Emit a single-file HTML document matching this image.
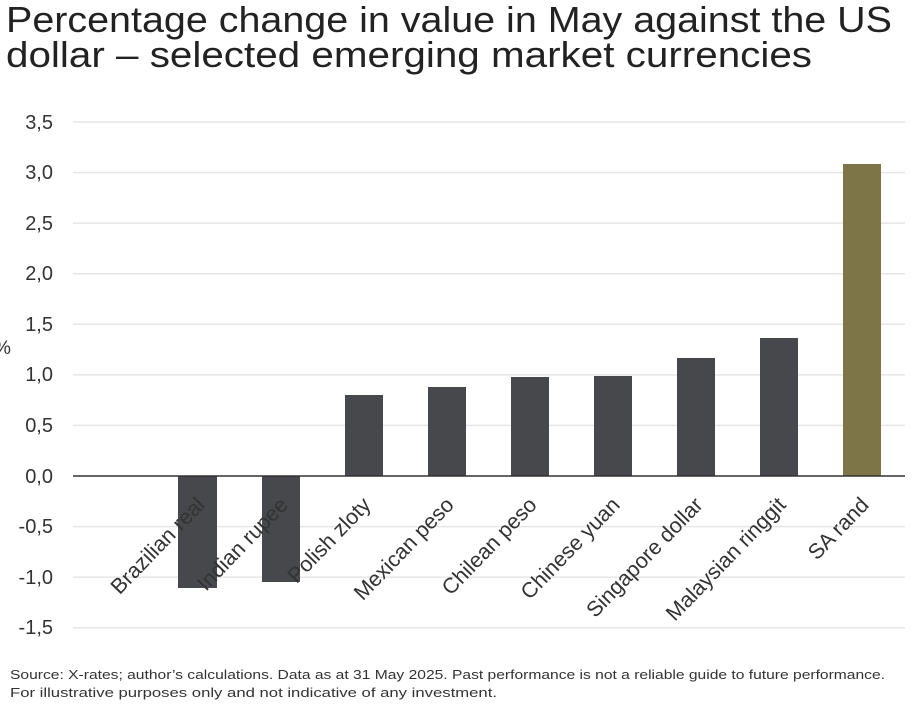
<!DOCTYPE html>
<html><head><style>
body{margin:0;background:#fff;width:920px;height:712px;overflow:hidden;font-family:"Liberation Sans",sans-serif}
</style></head><body>
<svg width="920" height="712" xmlns="http://www.w3.org/2000/svg" font-family="Liberation Sans, sans-serif">
<text x="6" y="32" font-size="36" fill="#222" textLength="886" lengthAdjust="spacingAndGlyphs">Percentage change in value in May against the US</text>
<text x="6" y="67" font-size="36" fill="#222" textLength="806" lengthAdjust="spacingAndGlyphs">dollar – selected emerging market currencies</text>
<g stroke="#e6e6e6" stroke-width="1.5">
<line x1="73" x2="905" y1="122" y2="122"/><line x1="73" x2="905" y1="172.6" y2="172.6"/>
<line x1="73" x2="905" y1="223.1" y2="223.1"/><line x1="73" x2="905" y1="273.7" y2="273.7"/>
<line x1="73" x2="905" y1="324.3" y2="324.3"/><line x1="73" x2="905" y1="374.9" y2="374.9"/>
<line x1="73" x2="905" y1="425.4" y2="425.4"/><line x1="73" x2="905" y1="526.6" y2="526.6"/>
<line x1="73" x2="905" y1="577.1" y2="577.1"/><line x1="73" x2="905" y1="627.7" y2="627.7"/>
</g>
<g font-size="20" fill="#333" text-anchor="end">
<text x="53" y="129">3,5</text><text x="53" y="179">3,0</text><text x="53" y="230">2,5</text>
<text x="53" y="280">2,0</text><text x="53" y="331">1,5</text><text x="53" y="381">1,0</text>
<text x="53" y="432">0,5</text><text x="53" y="483">0,0</text><text x="53" y="533">-0,5</text>
<text x="53" y="584">-1,0</text><text x="53" y="634">-1,5</text>
</g>
<text x="-6" y="354" font-size="19" fill="#333">%</text>
<g fill="#46484b">
<rect x="178" y="476" width="39" height="112"/>
<rect x="262" y="476" width="38" height="106"/>
<rect x="345" y="395" width="38" height="81"/>
<rect x="428" y="387" width="38" height="89"/>
<rect x="511" y="377" width="38" height="99"/>
<rect x="594" y="376" width="38" height="100"/>
<rect x="677" y="358" width="38" height="118"/>
<rect x="760" y="338" width="38" height="138"/>
</g>
<rect x="843" y="164" width="38" height="312" fill="#7d7447"/>
<line x1="73" x2="905" y1="476" y2="476" stroke="#333" stroke-width="1.5"/>
<g font-size="21.5" fill="#333" text-anchor="end">
<text transform="translate(206,506) rotate(-46)">Brazilian real</text>
<text transform="translate(289,506) rotate(-46)">Indian rupee</text>
<text transform="translate(372,506) rotate(-46)">Polish zloty</text>
<text transform="translate(455,506) rotate(-46)">Mexican peso</text>
<text transform="translate(538,506) rotate(-46)">Chilean peso</text>
<text transform="translate(621,506) rotate(-46)">Chinese yuan</text>
<text transform="translate(704,506) rotate(-46)">Singapore dollar</text>
<text transform="translate(787,506) rotate(-46)">Malaysian ringgit</text>
<text transform="translate(870,506) rotate(-46)">SA rand</text>
</g>
<text x="10" y="679" font-size="13" fill="#333" textLength="875" lengthAdjust="spacingAndGlyphs">Source: X-rates; author’s calculations. Data as at 31 May 2025. Past performance is not a reliable guide to future performance.</text>
<text x="10" y="697" font-size="13" fill="#333" textLength="487" lengthAdjust="spacingAndGlyphs">For illustrative purposes only and not indicative of any investment.</text>
</svg>
</body></html>
